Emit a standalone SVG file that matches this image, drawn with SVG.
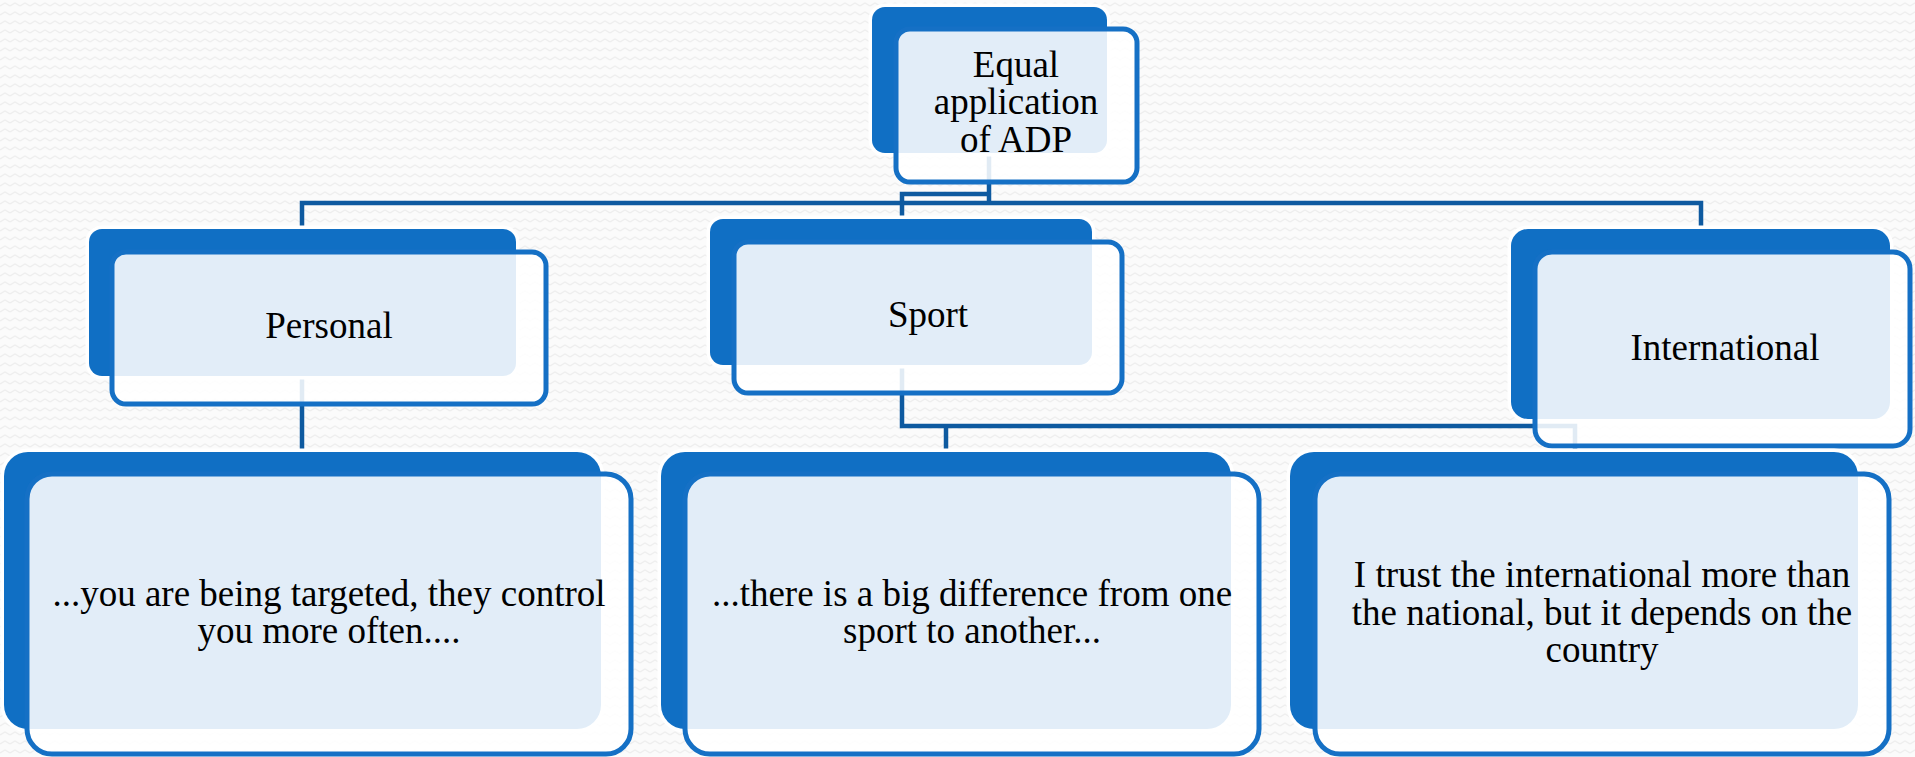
<svg xmlns="http://www.w3.org/2000/svg" width="1915" height="757" viewBox="0 0 1915 757">
<defs>
<pattern id="bg" width="10" height="9" patternUnits="userSpaceOnUse">
<rect width="10" height="9" fill="#FBFBFB"/>
<path d="M0 6 L5 3 L10 6" fill="none" stroke="#EEEEEE" stroke-width="1.2"/>
</pattern>
<style>
.back{fill:#106FC4;stroke:#FFFFFF;stroke-width:7;paint-order:stroke}
.front{fill:#FFFFFF;fill-opacity:0.88;stroke:#1570C5;stroke-width:5}
.conn{fill:none;stroke:#0E5AA0;stroke-width:4.5}
text{font-family:"Liberation Serif","Times New Roman",serif;font-size:37px;fill:#000000;text-anchor:middle}
</style>
</defs>
<rect width="1915" height="757" fill="url(#bg)"/>
<g id="connectors">
<path class="conn" d="M989 153 V205"/>
<path class="conn" d="M302 229 V203 H1701 V229"/>
<path class="conn" d="M989 194 H902 V219"/>
<path class="conn" d="M302 376 V452"/>
<path class="conn" d="M902 365 V426 H1575 V452"/>
<path class="conn" d="M946 426 V452"/>
</g>
<g id="node-top">
<rect class="back" x="872" y="7" width="235" height="146" rx="13"/>
<rect class="front" x="896" y="29" width="241" height="153" rx="14"/>
<text x="1016" y="77">Equal</text>
<text x="1016" y="114">application</text>
<text x="1016" y="152">of ADP</text>
</g>
<g id="node-personal">
<rect class="back" x="89" y="229" width="427" height="147" rx="13"/>
<rect class="front" x="112" y="252" width="434" height="152" rx="14"/>
<text x="329" y="338">Personal</text>
</g>
<g id="node-sport">
<rect class="back" x="710" y="219" width="382" height="146" rx="13"/>
<rect class="front" x="734" y="242" width="388" height="151" rx="14"/>
<text x="928" y="327">Sport</text>
</g>
<g id="node-international">
<rect class="back" x="1511" y="229" width="379" height="190" rx="17"/>
<rect class="front" x="1535" y="252" width="375" height="194" rx="17"/>
<text x="1725" y="360">International</text>
</g>
<g id="node-child1">
<rect class="back" x="4" y="452" width="597" height="277" rx="24"/>
<rect class="front" x="27" y="474" width="604" height="280" rx="25"/>
<text x="329" y="606">...you are being targeted, they control</text>
<text x="329" y="643">you more often....</text>
</g>
<g id="node-child2">
<rect class="back" x="661" y="452" width="570" height="277" rx="24"/>
<rect class="front" x="685" y="474" width="574" height="280" rx="25"/>
<text x="972" y="606">...there is a big difference from one</text>
<text x="972" y="643">sport to another...</text>
</g>
<g id="node-child3">
<rect class="back" x="1290" y="452" width="568" height="277" rx="24"/>
<rect class="front" x="1315" y="474" width="574" height="280" rx="25"/>
<text x="1602" y="587">I trust the international more than</text>
<text x="1602" y="625">the national, but it depends on the</text>
<text x="1602" y="662">country</text>
</g>
</svg>
